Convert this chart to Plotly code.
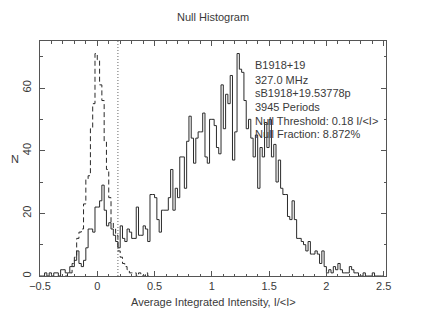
import numpy as np
import plotly.graph_objects as go

bin_start = -0.5
bin_width = 0.02

# on-pulse histogram counts (bins of 0.02 starting at -0.5)
on_counts = [
    0, 0, 1, 0, 1, 0, 1, 1, 0, 2,
    2, 1, 1, 3, 3, 5, 8, 4, 3, 5,
    9, 15, 15, 14, 22, 22, 24, 29, 21, 16,
    17, 15, 13, 11, 9, 16, 12, 11, 15, 14,
    12, 12, 22, 13, 13, 16, 15, 11, 26, 26,
    25, 18, 14, 21, 21, 21, 25, 34, 21, 28,
    25, 38, 38, 28, 43, 51, 44, 36, 44, 46,
    46, 52, 38, 36, 50, 50, 48, 41, 39, 61,
    47, 58, 55, 64, 37, 46, 71, 66, 65, 56,
    47, 50, 44, 38, 45, 28, 41, 38, 49, 41,
    50, 38, 42, 30, 37, 28, 26, 26, 19, 18,
    24, 18, 12, 12, 11, 10, 8, 11, 7, 7,
    8, 7, 4, 8, 3, 1, 2, 1, 3, 2,
    4, 2, 1, 1, 1, 3, 2, 1, 1, 0,
    0, 1, 0, 0, 0, 1, 0, 0, 0, 0,
]

# off-pulse histogram counts (same bins)
off_counts = [
    0, 0, 0, 0, 0, 0, 0, 0, 0, 0,
    0, 0, 1, 1, 4, 6, 12, 14, 15, 23,
    31, 32, 47, 55, 71, 69, 61, 56, 43, 34,
    25, 17, 15, 13, 8, 6, 4, 3, 2, 1,
    1, 1, 0, 1, 0, 0, 1, 0, 0, 0,
] + [0] * 100

null_threshold = 0.18
info_lines = [
    "B1918+19",
    "327.0 MHz",
    "sB1918+19.53778p",
    "3945 Periods",
    "Null Threshold: 0.18 I/<I>",
    "Null Fraction: 8.872%",
]
x_tick_vals = [-0.5, 0, 0.5, 1, 1.5, 2, 2.5]
x_tick_text = ["\u22120.5", "0", "0.5", "1", "1.5", "2", "2.5"]

edges = bin_start + bin_width * np.arange(len(on_counts) + 1)


def step_xy(counts):
    c = list(counts)
    return list(edges), c + [c[-1]]


ink = "#2a2a2a"
txt_col = "#3a3a3a"
font_family = "Liberation Sans, Arial, sans-serif"
fsize = 11

fig = go.Figure()

sx, sy = step_xy(on_counts)
fig.add_trace(go.Scatter(x=sx, y=sy, mode="lines", line_shape="hv",
                         line=dict(color=ink, width=1), showlegend=False,
                         hoverinfo="skip"))

nz = [i for i, v in enumerate(off_counts) if v > 0]
lo, hi = max(nz[0] - 1, 0), min(nz[-1] + 2, len(off_counts))
ox = list(edges[lo:hi + 1])
oy = list(off_counts[lo:hi]) + [off_counts[hi - 1]]
fig.add_trace(go.Scatter(x=ox, y=oy, mode="lines", line_shape="hv",
                         line=dict(color=ink, width=1, dash="5px,3px"),
                         showlegend=False, hoverinfo="skip"))

fig.add_shape(type="line", x0=null_threshold, x1=null_threshold, y0=0, y1=1,
              xref="x", yref="paper",
              line=dict(color="#666", width=1, dash="1px,2px"))

# info text
line_px = [65, 80, 93.5, 107, 120.5, 134]
plot_top, plot_h = 41, 235
for txt, ypx in zip(info_lines, line_px):
    fig.add_annotation(x=1.355, xref="x", y=1 - (ypx - plot_top) / plot_h,
                       yref="paper", text=txt.replace("<", "&lt;").replace(">", "&gt;"),
                       showarrow=False, xanchor="left", yanchor="middle",
                       font=dict(family=font_family, size=fsize, color=txt_col))

fig.add_annotation(x=0.5, xref="paper", y=1, yref="paper", yshift=24,
                   text="Null Histogram", showarrow=False, yanchor="middle",
                   font=dict(family=font_family, size=fsize, color=txt_col))
fig.add_annotation(x=0.5, xref="paper", y=0, yref="paper", yshift=-26,
                   text="Average Integrated Intensity, I/&lt;I&gt;", showarrow=False,
                   yanchor="middle",
                   font=dict(family=font_family, size=fsize, color=txt_col))
fig.add_annotation(x=0, xref="paper", xshift=-25, y=0.5, yref="paper",
                   text="N", showarrow=False, xanchor="center", yanchor="middle",
                   font=dict(family=font_family, size=fsize, color=txt_col))

axis_common = dict(showline=True, linecolor="#555", linewidth=1, mirror="ticks",
                   ticks="inside", tickcolor="#555", ticklen=5, showgrid=False,
                   zeroline=False, automargin=False,
                   tickfont=dict(family=font_family, size=fsize, color=txt_col))

fig.update_xaxes(range=[-0.5, 2.52], tickmode="array", tickvals=x_tick_vals,
                 ticktext=x_tick_text, ticklabelstandoff=0,
                 minor=dict(ticks="inside", ticklen=2.5, tickcolor="#555",
                            tickmode="linear", tick0=0, dtick=0.1),
                 **axis_common)
fig.update_yaxes(range=[0, 75], tickmode="linear", tick0=0, dtick=20,
                 tickangle=-90, ticklabelstandoff=4,
                 minor=dict(ticks="inside", ticklen=2.5, tickcolor="#555",
                            tickmode="linear", tick0=0, dtick=10),
                 **axis_common)

fig.update_layout(width=425, height=316, autosize=False,
                  margin=dict(l=40, r=39, t=41, b=40, autoexpand=False),
                  paper_bgcolor="white", plot_bgcolor="white",
                  hovermode=False)

fig.write_html("out.html", config={"displayModeBar": False, "staticPlot": True},
               post_script="document.body.style.margin='0';document.body.style.padding='0';")
